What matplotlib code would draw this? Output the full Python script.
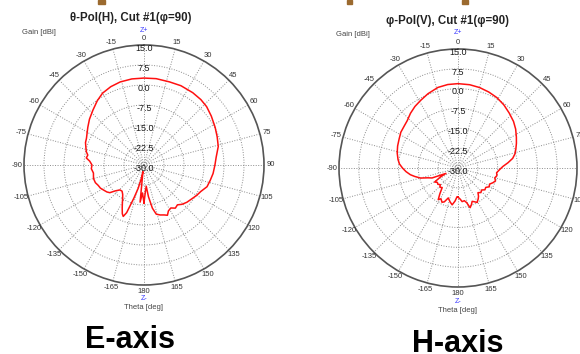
import numpy as np
import matplotlib
matplotlib.use("Agg")
import matplotlib.pyplot as plt
from matplotlib.patches import Rectangle

plt.rcParams["font.family"] = ["Liberation Sans", "DejaVu Sans"]

# E-plane cut (theta-pol), gain in dBi vs theta in deg
theta_e = [-180, -177, -174, -171, -169, -166, -163, -160, -158, -156, -153, -150,
           -147, -144, -140, -136, -132, -129, -126, -122, -118, -114, -110, -105,
           -99, -94, -90, -86, -83, -80, -77, -73, -69, -65, -60, -56, -50, -43,
           -36, -30, -23, -16, -8, 0, 8, 17, 25, 34, 41, 47, 54, 62, 69, 76, 84,
           90, 97, 103, 109, 115, 120, 125, 131, 136, 140, 144, 148, 152, 155,
           158, 162, 166, 169, 172, 174, 177]
gain_e = [-15.8, -19.5, -16.0, -27.5, -25.0, -21.0, -17.0, -11.0, -9.2, -10.0, -12.0, -13.8,
          -15.3, -16.4, -17.2, -17.0, -15.5, -13.5, -12.8, -12.2, -11.5, -11.2, -10.6, -10.4,
          -10.8, -10.2, -10.5, -9.6, -8.2, -8.6, -7.8, -7.2, -6.5, -6.2, -5.4, -4.6, -3.3, -1.9,
          -0.2, 1.1, 1.9, 2.4, 2.6, 2.6, 2.7, 2.6, 2.8, 2.7, 2.5, 2.1, 1.2, 0.2, -0.6, -1.3, -2.8,
          -3.4, -3.9, -4.5, -5.0, -6.5, -7.2, -8.0, -8.7, -9.5, -10.5, -10.0, -11.0, -10.5, -9.2,
          -9.8, -10.3, -11.0, -13.5, -18.0, -22.0, -20.0]

# H-plane cut (phi-pol)
theta_h = [-180, -178, -175, -171, -167, -162, -158, -155, -151, -148, -145, -141,
           -137, -133, -129, -125, -121, -117, -114, -111, -108, -105, -101, -98,
           -94, -90, -86, -82, -76, -70, -64, -58, -52, -47, -41, -35, -29, -22,
           -14, -7, 0, 8, 15, 22, 29, 36, 43, 50, 56, 62, 67, 72, 76, 80, 84, 88,
           92, 97, 101, 105, 109, 113, 117, 121, 125, 129, 133, 137, 141, 144, 147,
           151, 154, 157, 160, 163, 166, 169, 173, 176]
gain_h = [-19.0, -19.1, -17.5, -15.9, -16.8, -18.1, -16.2, -15.7, -16.7, -15.9, -18.0, -20.5,
          -20.0, -20.8, -20.2, -20.5, -19.7, -22.5, -25.0, -19.5, -18.0, -15.3, -13.3, -11.8,
          -10.3, -9.0, -7.8, -7.1, -6.3, -5.7, -5.2, -4.5, -4.2, -3.75, -2.6, -1.6, -0.8, 0.3,
          1.4, 1.8, 1.9, 1.8, 1.5, 1.0, 0.4, -0.5, -1.6, -2.6, -3.7, -5.0, -6.0, -7.0, -7.8, -9.0,
          -11.0, -13.0, -14.2, -15.3, -15.0, -15.6, -15.0, -15.7, -16.6, -16.2, -17.2, -16.9,
          -17.8, -17.3, -18.0, -16.8, -16.0, -15.1, -15.8, -16.3, -15.2, -14.3, -16.5, -17.4,
          -17.2, -18.2]

r_min, r_max = -30.0, 15.0
ring_vals = [15.0, 7.5, 0.0, -7.5, -15.0, -22.5, -30.0]
ang_ticks = list(range(0, 360, 15))
ang_labels = [str(a) if a <= 180 else str(a - 360) for a in ang_ticks]

fig = plt.figure(figsize=(5.8, 3.54), dpi=100)
W, H = 580, 354


def polar_panel(cx, cy, R, theta, gain, title, tpos, name, npos):
    ax = fig.add_axes([(cx - R) / W, (H - cy - R) / H, 2 * R / W, 2 * R / H],
                      projection="polar")
    ax.set_theta_zero_location("N")
    ax.set_theta_direction(-1)
    ax.set_rlim(r_min, r_max)
    ax.set_yticks([-22.5, -15, -7.5, 0, 7.5])
    ax.set_yticklabels([])
    ax.set_xticks(np.deg2rad(ang_ticks))
    ax.set_xticklabels([])
    ax.grid(True, color="#8c8c8c", linestyle=(0, (1, 1.6)), linewidth=0.7)
    ax.spines["polar"].set_color("#555555")
    ax.spines["polar"].set_linewidth(1.2)

    # angle labels just outside the rim
    for a, lab in zip(ang_ticks, ang_labels):
        ra = np.deg2rad(a)
        ax.text(0.5 + 0.528 * np.sin(ra), 0.5 + 0.528 * np.cos(ra), lab,
                transform=ax.transAxes, ha="center", va="center",
                fontsize=5.5, color="#333333", clip_on=False)

    t = np.deg2rad(np.array(theta + [theta[0]]))
    g = np.array(gain + [gain[0]])
    ax.plot(t, g, color="#ff1010", linewidth=1.1)

    for v in ring_vals:
        yy = 0.5 + (v - r_min) / (r_max - r_min) * 0.5 - 0.014
        ax.text(0.5, yy, f"{v:.1f}", transform=ax.transAxes, ha="center",
                va="center", fontsize=6.5, color="#1a1a1a")

    fig.text(tpos[0] / W, 1 - tpos[1] / H, title, ha="center", va="center",
             fontsize=8.3, fontweight="bold", color="#222222")
    fig.text((cx - 122) / W, 1 - (cy - 133) / H, "Gain [dBi]", ha="left",
             va="center", fontsize=5.5, color="#444444")
    fig.text(cx / W, 1 - (cy - 135) / H, "Z+", ha="center", va="center",
             fontsize=5, color="#3a3aff")
    fig.text(cx / W, 1 - (cy + 133.5) / H, "Z-", ha="center", va="center",
             fontsize=5, color="#3a3aff")
    fig.text(cx / W, 1 - (cy + 142.5) / H, "Theta [deg]", ha="center",
             va="center", fontsize=5.5, color="#444444")
    fig.text(npos[0] / W, 1 - npos[1] / H, name, ha="center", va="center",
             fontsize=22, fontweight="bold", color="black")
    return ax


polar_panel(144, 165, 120, theta_e, gain_e, "θ-Pol(H), Cut #1(φ=90)", (131, 18),
            "E-axis", (130, 340))
polar_panel(458, 168, 119, theta_h, gain_h, "φ-Pol(V), Cut #1(φ=90)", (447, 21),
            "H-axis", (458, 344))

# small brown marks cut at the top edge
for x0, w in [(98, 7), (347, 5), (462, 6)]:
    fig.patches.append(Rectangle((x0 / W, 1 - 4 / H), w / W, 4 / H,
                                 transform=fig.transFigure, color="#9b6a2f"))

fig.savefig("out.png", dpi=100)
